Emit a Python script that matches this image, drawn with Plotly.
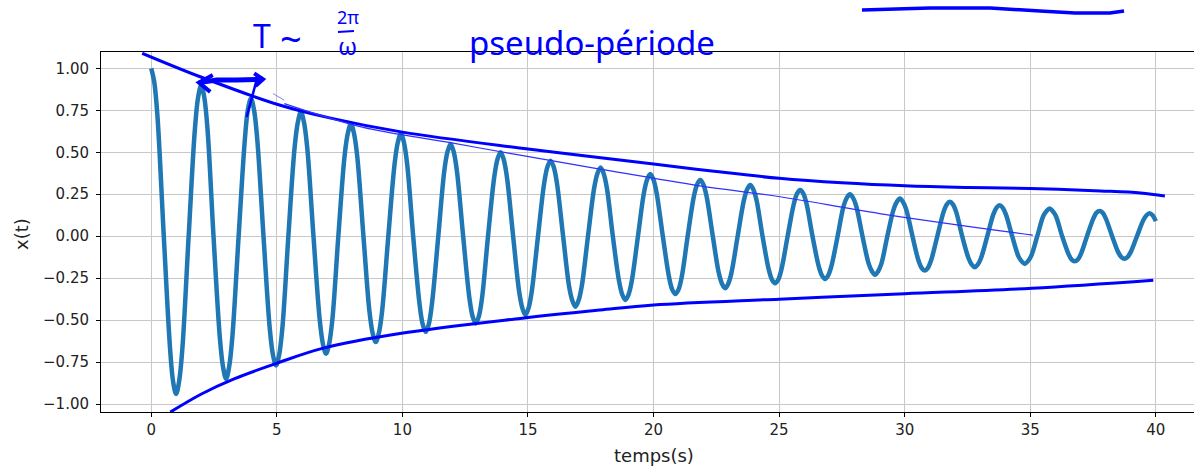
import plotly.graph_objects as go

# ---- data ----
# extrema of the damped oscillation (alternating peaks / troughs)
ext_t = [0.00, 0.99, 1.99, 2.98, 3.97, 4.97, 5.96, 6.96, 7.95, 8.94, 9.94,
         10.93, 11.92, 12.92, 13.91, 14.90, 15.90, 16.89, 17.89, 18.88, 19.87,
         20.87, 21.86, 22.85, 23.85, 24.84, 25.84, 26.83, 27.82, 28.82, 29.81,
         30.80, 31.80, 32.79, 33.78, 34.78, 35.77, 36.77, 37.76, 38.75, 39.75]
ext_x = [1.00, -0.94, 0.90, -0.85, 0.82, -0.77, 0.74, -0.70, 0.67, -0.63, 0.61,
         -0.57, 0.55, -0.52, 0.50, -0.47, 0.45, -0.42, 0.41, -0.38, 0.37,
         -0.345, 0.335, -0.31, 0.305, -0.28, 0.275, -0.255, 0.25, -0.23, 0.225,
         -0.205, 0.205, -0.185, 0.185, -0.165, 0.165, -0.15, 0.15, -0.135, 0.137]
# points just either side of each extremum
near_t = [0.12, 0.87, 1.11, 1.87, 2.11, 2.86, 3.10, 3.85, 4.09, 4.85, 5.09,
          5.84, 6.08, 6.84, 7.08, 7.83, 8.07, 8.82, 9.06, 9.82, 10.06,
          10.81, 11.05, 11.80, 12.04, 12.80, 13.04, 13.79, 14.03, 14.78, 15.02,
          15.78, 16.02, 16.77, 17.01, 17.77, 18.01, 18.76, 19.00, 19.75, 19.99,
          20.75, 20.99, 21.74, 21.98, 22.73, 22.97, 23.73, 23.97, 24.72, 24.96,
          25.72, 25.96, 26.71, 26.95, 27.70, 27.94, 28.70, 28.94, 29.69, 29.93,
          30.68, 30.92, 31.68, 31.92, 32.67, 32.91, 33.66, 33.90, 34.66, 34.90,
          35.65, 35.89, 36.65, 36.89, 37.64, 37.88, 38.63, 38.87, 39.63, 39.87]
near_x = [0.92, -0.865, -0.865, 0.83, 0.83, -0.78, -0.78, 0.755, 0.755, -0.71, -0.71,
          0.68, 0.68, -0.645, -0.645, 0.615, 0.615, -0.58, -0.58, 0.56, 0.56,
          -0.525, -0.525, 0.505, 0.505, -0.48, -0.48, 0.46, 0.46, -0.43, -0.43,
          0.415, 0.415, -0.385, -0.385, 0.375, 0.375, -0.35, -0.35, 0.34, 0.34,
          -0.32, -0.32, 0.31, 0.31, -0.285, -0.285, 0.28, 0.28, -0.26, -0.26,
          0.255, 0.255, -0.235, -0.235, 0.23, 0.23, -0.21, -0.21, 0.205, 0.205,
          -0.19, -0.19, 0.19, 0.19, -0.17, -0.17, 0.17, 0.17, -0.15, -0.15,
          0.15, 0.15, -0.14, -0.14, 0.14, 0.14, -0.125, -0.125, 0.125, 0.125]
# shoulder points of the curve (between each extremum and zero crossing)
shoulder_t = [0.25, 0.75, 1.24, 1.74, 2.24, 2.73, 3.23, 3.73, 4.22, 4.72,
              5.22, 5.71, 6.21, 6.71, 7.21, 7.70, 8.20, 8.69, 9.19, 9.69,
              10.19, 10.68, 11.18, 11.67, 12.17, 12.67, 13.17, 13.66, 14.16, 14.65,
              15.15, 15.65, 16.15, 16.64, 17.14, 17.64, 18.14, 18.63, 19.13, 19.62,
              20.12, 20.62, 21.12, 21.61, 22.11, 22.60, 23.10, 23.60, 24.10, 24.59,
              25.09, 25.59, 26.09, 26.58, 27.08, 27.57, 28.07, 28.57, 29.07, 29.56,
              30.06, 30.55, 31.05, 31.55, 32.05, 32.54, 33.04, 33.53, 34.03, 34.53,
              35.03, 35.52, 36.02, 36.52, 37.02, 37.51, 38.01, 38.50, 39.00, 39.50]
shoulder_x = [0.71, -0.67, -0.67, 0.64, 0.64, -0.60, -0.60, 0.58, 0.58, -0.55,
              -0.55, 0.53, 0.53, -0.50, -0.50, 0.48, 0.48, -0.45, -0.45, 0.43,
              0.43, -0.40, -0.40, 0.39, 0.39, -0.37, -0.37, 0.355, 0.355, -0.33,
              -0.33, 0.32, 0.32, -0.30, -0.30, 0.29, 0.29, -0.27, -0.27, 0.26,
              0.26, -0.245, -0.245, 0.24, 0.24, -0.22, -0.22, 0.215, 0.215, -0.20,
              -0.20, 0.195, 0.195, -0.18, -0.18, 0.18, 0.18, -0.165, -0.165, 0.16,
              0.16, -0.145, -0.145, 0.145, 0.145, -0.13, -0.13, 0.13, 0.13, -0.12,
              -0.12, 0.12, 0.12, -0.105, -0.105, 0.105, 0.105, -0.095, -0.095, 0.095]
# zero crossings of the oscillation
zero_t = [0.50, 1.49, 2.48, 3.48, 4.47, 5.46, 6.46, 7.45, 8.45, 9.44,
          10.43, 11.43, 12.42, 13.41, 14.41, 15.40, 16.40, 17.39, 18.38, 19.38,
          20.37, 21.36, 22.36, 23.35, 24.34, 25.34, 26.33, 27.33, 28.32, 29.31,
          30.31, 31.30, 32.29, 33.29, 34.28, 35.28, 36.27, 37.26, 38.26, 39.25]
end_t = [40.00]
end_x = [0.09]

# hand-drawn envelopes (blue pen)
env_up_t = [-0.36, 1.95, 5.14, 7.1, 10.0, 15.0, 20.0, 22.5, 25.0, 27.5, 30.0, 32.5, 35.0, 37.8, 39.4, 40.36]
env_up_x = [1.09, 0.95, 0.78, 0.705, 0.62, 0.52, 0.43, 0.385, 0.345, 0.318, 0.30, 0.29, 0.284, 0.27, 0.258, 0.24]
env_lo_t = [0.76, 2.0, 3.3, 5.0, 6.85, 9.9, 14.7, 17.87, 20.0, 25.0, 30.0, 35.07, 39.9]
env_lo_x = [-1.048, -0.94, -0.85, -0.757, -0.667, -0.58, -0.49, -0.44, -0.41, -0.375, -0.343, -0.31, -0.262]
thin_t = [5.3, 8.4, 11.8, 14.4, 17.87, 21.85, 25.04, 29.0, 35.1]
thin_x = [0.79, 0.65, 0.56, 0.49, 0.40, 0.30, 0.235, 0.135, 0.006]

# pen strokes of the double arrow (data units)
arrow_shaft_t = [1.9, 2.6, 3.4, 4.2, 4.45]
arrow_shaft_x = [0.915, 0.93, 0.93, 0.935, 0.935]
arrow_left_t = [2.45, 1.9, 2.35]
arrow_left_x = [0.96, 0.915, 0.86]
arrow_right_t = [4.1, 4.45, 4.15]
arrow_right_x = [0.97, 0.935, 0.895]
tick_mark_t = [4.25, 4.05, 3.8]
tick_mark_x = [0.96, 0.85, 0.71]
faint_t = [4.85, 5.3]
faint_x = [0.85, 0.81]

yticks = [-1.0, -0.75, -0.5, -0.25, 0.0, 0.25, 0.5, 0.75, 1.0]
xticks = [0, 5, 10, 15, 20, 25, 30, 35, 40]

# ---- build the curve ----
pts = sorted(list(zip(ext_t, ext_x)) + list(zip(near_t, near_x)) + [(z, 0.0) for z in zero_t]
             + list(zip(shoulder_t, shoulder_x)) + list(zip(end_t, end_x)))
t = [p[0] for p in pts]
x = [p[1] for p in pts]

BLUE = "#0000ff"
fig = go.Figure()
fig.add_trace(go.Scatter(x=t, y=x, mode="lines", line=dict(color="#1f77b4", width=4.5, shape="spline", smoothing=1.0),
                         showlegend=False, hoverinfo="skip"))
fig.add_trace(go.Scatter(x=env_up_t, y=env_up_x, mode="lines", line=dict(color=BLUE, width=3, shape="spline"),
                         showlegend=False, hoverinfo="skip"))
fig.add_trace(go.Scatter(x=env_lo_t, y=env_lo_x, mode="lines", line=dict(color=BLUE, width=3, shape="spline"),
                         showlegend=False, hoverinfo="skip"))
fig.add_trace(go.Scatter(x=thin_t, y=thin_x, mode="lines", line=dict(color="#3030ff", width=1.2, shape="spline"),
                         showlegend=False, hoverinfo="skip"))
for tt, xx, w in [(arrow_shaft_t, arrow_shaft_x, 5), (arrow_left_t, arrow_left_x, 4),
                  (arrow_right_t, arrow_right_x, 4), (tick_mark_t, tick_mark_x, 2.5),
                  (faint_t, faint_x, 1)]:
    fig.add_trace(go.Scatter(x=tt, y=xx, mode="lines", line=dict(color=BLUE if w > 1 else "#8080ff", width=w),
                             showlegend=False, hoverinfo="skip"))

W, H = 1194, 467
L, R, T, B = 101, 0, 52, 55
PH = H - T - B
PW = W - L - R

def px(xp):
    return (xp - L) / PW

def py(yp):
    return (H - B - yp) / PH

ann = [
    dict(text="T", x=px(262), y=py(36), font=dict(size=32)),
    dict(text="~", x=px(291), y=py(38), font=dict(size=38)),
    dict(text="2π", x=px(348), y=py(17), font=dict(size=18)),
    dict(text="ω", x=px(347), y=py(45), font=dict(size=24)),
    dict(text="pseudo-période", x=px(592), y=py(42), font=dict(size=33)),
]
annotations = []
for a in ann:
    f = dict(family="Noto Sans", color=BLUE, **a["font"])
    annotations.append(dict(text=a["text"], x=a["x"], y=a["y"], xref="paper", yref="paper",
                            showarrow=False, font=f, xanchor="center", yanchor="middle"))
annotations.append(dict(text="temps(s)", x=20, xref="x", y=py(455), yref="paper", showarrow=False,
                        font=dict(family="DejaVu Sans", size=18, color="#222"), xanchor="center", yanchor="middle"))
annotations.append(dict(text="x(t)", x=px(21), xref="paper", y=py(234), yref="paper", showarrow=False,
                        textangle=-90, font=dict(family="DejaVu Sans", size=18, color="#222"),
                        xanchor="center", yanchor="middle"))

stroke_px = [(862, 10), (930, 8), (990, 8), (1040, 11), (1075, 13), (1110, 13), (1124, 11)]
path = "M " + " L ".join(f"{px(a):.4f},{py(b):.4f}" for a, b in stroke_px)
frac_px = [(338, 32), (354, 31)]
path2 = "M " + " L ".join(f"{px(a):.4f},{py(b):.4f}" for a, b in frac_px)
shapes = [dict(type="path", path=path, xref="paper", yref="paper", line=dict(color=BLUE, width=3.5)),
          dict(type="path", path=path2, xref="paper", yref="paper", line=dict(color=BLUE, width=2))]

fig.update_layout(
    width=W, height=H, margin=dict(l=L, r=R, t=T, b=B, autoexpand=False),
    plot_bgcolor="white", paper_bgcolor="white",
    font=dict(family="DejaVu Sans", size=15, color="#222"),
    annotations=annotations, shapes=shapes,
    xaxis=dict(range=[-2.0, 41.52], tickvals=xticks, showgrid=True, gridcolor="#c8c8c8", gridwidth=1,
               showline=True, linecolor="black", linewidth=1, mirror=True, ticks="outside", ticklen=4,
               tickcolor="black", zeroline=False, automargin=False),
    yaxis=dict(range=[-1.0475, 1.0975], tickvals=yticks, tickformat=".2f", showgrid=True, gridcolor="#c8c8c8",
               gridwidth=1, showline=True, linecolor="black", linewidth=1, mirror=True, ticks="outside",
               ticklen=4, tickcolor="black", zeroline=False, automargin=False, ticklabelstandoff=4),
)
fig.write_html("out.html", config={"displayModeBar": False},
               post_script="document.body.style.margin='0';document.body.style.overflow='hidden';")
